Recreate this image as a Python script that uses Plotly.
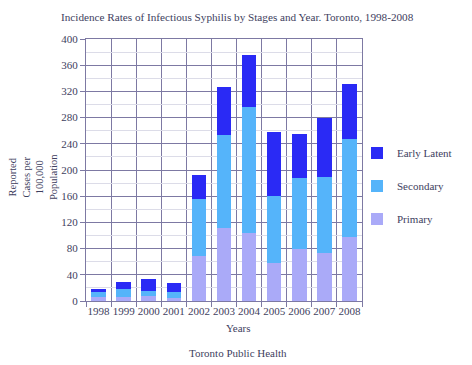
import plotly.graph_objects as go

years = ["1998", "1999", "2000", "2001", "2002", "2003", "2004", "2005", "2006", "2007", "2008"]
primary = [6, 6, 8, 5, 69, 112, 104, 58, 79, 73, 97]
secondary = [7, 13, 7, 9, 87, 141, 192, 102, 109, 117, 151]
early_latent = [6, 10, 19, 14, 36, 73, 80, 98, 67, 89, 83]
y_ticks = [0, 40, 80, 120, 160, 200, 240, 280, 320, 360, 400]

FONT = "Liberation Serif, Times New Roman, serif"
TXT = "#3e3e5e"
GRID = "#7d79a3"
MINOR = "#dcdce8"

x = list(range(len(years)))

fig = go.Figure()
series = [("Primary", primary, "#aaaaf8", 3),
          ("Secondary", secondary, "#55b4fa", 2),
          ("Early Latent", early_latent, "#2a2af5", 1)]
for name, vals, col, rank in series:
    fig.add_trace(go.Bar(x=x, y=vals, name=name, legendgroup=name, legendrank=rank,
                         marker=dict(color=col, line=dict(width=0))))

# the page body has an 8px margin, so the figure is 8px smaller and offset
OFF = 8
W, H = 472 - OFF, 365 - OFF
L, T, R, B = 86 - OFF, 39 - OFF, 110, 64
pw, ph = W - L - R, H - T - B
def px(xp):
    return (xp - OFF - L) / pw
def py(yp):
    return (H - B - (yp - OFF)) / ph

fig.update_layout(
    width=W, height=H,
    barmode="stack", bargap=0.42,
    margin=dict(l=L, r=R, t=T, b=B, autoexpand=False),
    paper_bgcolor="white", plot_bgcolor="white",
    font=dict(family=FONT, size=11, color=TXT),
    showlegend=True,
    legend=dict(x=px(357), xanchor="left", y=py(186), yanchor="middle",
                traceorder="grouped", tracegroupgap=14, bgcolor="rgba(0,0,0,0)",
                font=dict(family=FONT, size=11, color=TXT), itemwidth=30),
    annotations=[
        dict(text="Incidence Rates of Infectious Syphilis by Stages and Year. Toronto, 1998-2008",
             x=px(237), y=py(17), xref="paper", yref="paper", showarrow=False,
             xanchor="center", yanchor="middle", font=dict(family=FONT, size=11.2)),
        dict(text="Reported<br>Cases per<br>100,000<br>Population", textangle=-90,
             x=px(33), y=py(177), xref="paper", yref="paper", showarrow=False,
             xanchor="center", yanchor="middle", font=dict(family=FONT, size=10.5)),
        dict(text="Years", x=px(238), y=py(328), xref="paper", yref="paper",
             showarrow=False, xanchor="center", yanchor="middle",
             font=dict(family=FONT, size=11)),
        dict(text="Toronto Public Health", x=px(238), y=py(353), xref="paper", yref="paper",
             showarrow=False, xanchor="center", yanchor="middle",
             font=dict(family=FONT, size=11)),
    ],
)

fig.update_xaxes(
    range=[-0.5, len(years) - 0.5], automargin=False,
    tickmode="array", tickvals=x, ticktext=years, tickangle=0,
    showgrid=False, ticks="", zeroline=False,
    showline=True, linecolor=GRID, linewidth=1, mirror=True,
    tickfont=dict(family=FONT, size=11, color=TXT),
    minor=dict(tick0=-0.5, dtick=1, showgrid=True, gridcolor=GRID, gridwidth=1,
               ticks="outside", ticklen=5, tickcolor=GRID),
)
fig.update_yaxes(
    range=[0, 400], tickmode="array", tickvals=y_ticks, automargin=False,
    showgrid=True, gridcolor=GRID, gridwidth=1, zeroline=False,
    showline=True, linecolor=GRID, linewidth=1, mirror=True,
    ticks="outside", ticklen=5, tickcolor=GRID,
    tickfont=dict(family=FONT, size=11, color=TXT),
    minor=dict(dtick=20, tick0=0, showgrid=True, gridcolor=MINOR, gridwidth=1),
)

fig.write_html("out.html")
